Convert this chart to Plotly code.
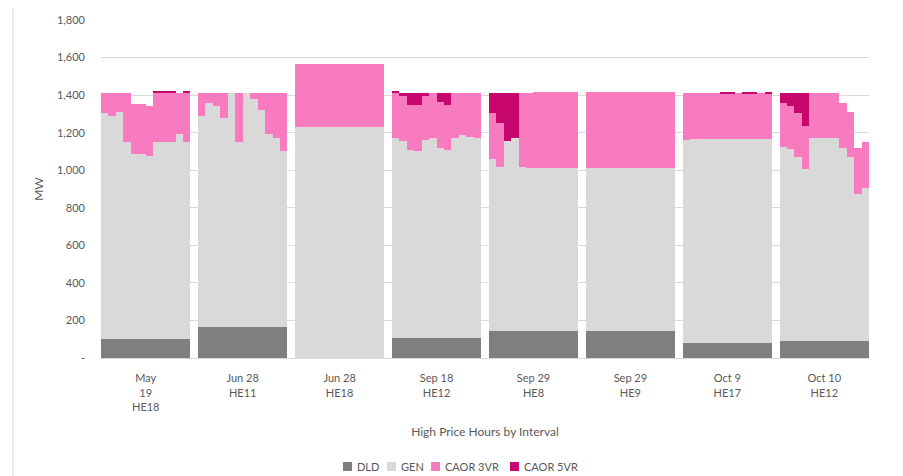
import plotly.graph_objects as go

# ---- data ----
group_labels = ["May<br>19<br>HE18", "Jun 28<br>HE11", "Jun 28<br>HE18", "Sep 18<br>HE12",
                "Sep 29<br>HE8", "Sep 29<br>HE9", "Oct 9<br>HE17", "Oct 10<br>HE12"]

dld_may19_he18 = [100] * 12
gen_may19_he18 = [1205, 1190, 1210, 1050, 985, 985, 975, 1050, 1050, 1050, 1095, 1050]
vr3_may19_he18 = [105, 120, 100, 260, 270, 270, 267, 265, 265, 265, 215, 265]
vr5_may19_he18 = [0, 0, 0, 0, 0, 0, 0, 3, 3, 3, 0, 3]

dld_jun28_he11 = [165] * 12
gen_jun28_he11 = [1125, 1195, 1177, 1115, 1245, 985, 1245, 1213, 1155, 1030, 1009, 935]
vr3_jun28_he11 = [120, 50, 68, 130, 0, 260, 0, 32, 90, 215, 236, 310]
vr5_jun28_he11 = [0] * 12

dld_jun28_he18 = [0] * 12
gen_jun28_he18 = [1228] * 12
vr3_jun28_he18 = [337] * 12
vr5_jun28_he18 = [0] * 12

dld_sep18_he12 = [105] * 12
gen_sep18_he12 = [1066, 1052, 1002, 995, 1056, 1066, 1016, 1004, 1066, 1082, 1074, 1066]
vr3_sep18_he12 = [244, 239, 238, 245, 235, 239, 242, 241, 239, 223, 231, 239]
vr5_sep18_he12 = [3, 14, 65, 65, 14, 0, 47, 60, 0, 0, 0, 0]

dld_sep29_he8 = [145] * 12
gen_sep29_he8 = [914, 874, 1012, 1026, 874, 867, 867, 867, 867, 867, 867, 867]
vr3_sep29_he8 = [244, 235, 0, 0, 391, 398, 403, 403, 403, 403, 403, 403]
vr5_sep29_he8 = [106, 155, 252, 238, 0, 0, 0, 0, 0, 0, 0, 0]

dld_sep29_he9 = [145] * 12
gen_sep29_he9 = [867] * 12
vr3_sep29_he9 = [403] * 12
vr5_sep29_he9 = [0] * 12

dld_oct9_he17 = [80] * 12
gen_oct9_he17 = [1080, 1085, 1085, 1085, 1085, 1085, 1085, 1085, 1085, 1085, 1085, 1085]
vr3_oct9_he17 = [250, 245, 245, 245, 245, 245, 245, 245, 245, 245, 245, 245]
vr5_oct9_he17 = [0, 0, 0, 0, 0, 4, 4, 0, 4, 4, 0, 4]

dld_oct10_he12 = [90] * 12
gen_oct10_he12 = [1035, 1022, 982, 916, 1084, 1084, 1084, 1084, 1031, 978, 784, 816]
vr3_oct10_he12 = [235, 230, 235, 230, 235, 235, 235, 235, 239, 244, 242, 242]
vr5_oct10_he12 = [49, 67, 102, 173, 0, 0, 0, 0, 0, 0, 0, 0]

dld_groups = [dld_may19_he18, dld_jun28_he11, dld_jun28_he18, dld_sep18_he12,
              dld_sep29_he8, dld_sep29_he9, dld_oct9_he17, dld_oct10_he12]
gen_groups = [gen_may19_he18, gen_jun28_he11, gen_jun28_he18, gen_sep18_he12,
              gen_sep29_he8, gen_sep29_he9, gen_oct9_he17, gen_oct10_he12]
vr3_groups = [vr3_may19_he18, vr3_jun28_he11, vr3_jun28_he18, vr3_sep18_he12,
              vr3_sep29_he8, vr3_sep29_he9, vr3_oct9_he17, vr3_oct10_he12]
vr5_groups = [vr5_may19_he18, vr5_jun28_he11, vr5_jun28_he18, vr5_sep18_he12,
              vr5_sep29_he8, vr5_sep29_he9, vr5_oct9_he17, vr5_oct10_he12]

y_tickvals = [0, 200, 400, 600, 800, 1000, 1200, 1400, 1600, 1800]
y_ticktext = ["-", "200", "400", "600", "800", "1,000", "1,200", "1,400", "1,600", "1,800"]

series_names = ["DLD", "GEN", "CAOR 3VR", "CAOR 5VR"]
series_colors = ["#7f7f7f", "#d9d9d9", "#f87bbf", "#c8076e"]

# ---- positions (12 intervals per hour + 1 empty slot as gap) ----
SLOT = 13
xs = []
for g in range(len(group_labels)):
    xs += [g * SLOT + j for j in range(12)]
centers = [g * SLOT + 5.5 for g in range(len(group_labels))]

def flat(groups):
    out = []
    for grp in groups:
        out += grp
    return out

series_values = [flat(dld_groups), flat(gen_groups), flat(vr3_groups), flat(vr5_groups)]

FONT = "Lato, 'Open Sans', sans-serif"
TXT = "#595959"

OFF = 8  # page body margin in the browser
W, H = 903 - OFF, 476 - OFF
ML, MR, MT, MB = 101 - OFF, 34, 20 - OFF, 118
PW, PH = W - ML - MR, H - MT - MB

def px_x(px):  # screen pixel -> paper coordinate
    return (px - OFF - ML) / PW

def px_y(py):
    return (H - MB - (py - OFF)) / PH

fig = go.Figure()
for name, vals, col in zip(series_names, series_values, series_colors):
    fig.add_trace(go.Bar(x=xs, y=vals, name=name, width=1.0, showlegend=False,
                         marker=dict(color=col, line=dict(width=0))))

fig.update_layout(
    width=W, height=H,
    barmode="stack", bargap=0,
    plot_bgcolor="white", paper_bgcolor="white",
    margin=dict(l=ML, r=MR, t=MT, b=MB, autoexpand=False),
    font=dict(family=FONT, size=11, color=TXT),
    showlegend=False,
)
fig.update_xaxes(range=[-0.5, len(group_labels) * SLOT - 1.5], automargin=False,
                 tickvals=centers, ticktext=group_labels, ticks="",
                 showgrid=False, zeroline=False, showline=True, linecolor="#d9d9d9",
                 tickfont=dict(size=11, color=TXT), ticklabelstandoff=10,
                 title=dict(text="High Price Hours by Interval", font=dict(size=12, color=TXT),
                            standoff=15))
fig.update_yaxes(range=[0, 1800], tickvals=y_tickvals, ticktext=y_ticktext, automargin=False,
                 showgrid=True, gridcolor="#d9d9d9", gridwidth=1, zeroline=False,
                 tickfont=dict(size=11, color=TXT), ticklabelstandoff=15,
                 title=dict(text="MW", font=dict(size=12, color=TXT), standoff=10))

# outer chart frame
fig.add_shape(type="rect", xref="paper", yref="paper",
              x0=px_x(13), x1=px_x(898), y0=px_y(490), y1=px_y(4),
              line=dict(color="#d9d9d9", width=1), fillcolor="rgba(0,0,0,0)", layer="below")

# legend (Excel-style, compact)
legend_square_left = [343, 387, 431, 510]
for name, col, sx in zip(series_names, series_colors, legend_square_left):
    fig.add_shape(type="rect", xref="paper", yref="paper",
                  x0=px_x(sx), x1=px_x(sx + 9), y0=px_y(471), y1=px_y(462),
                  line=dict(width=0), fillcolor=col)
    fig.add_annotation(xref="paper", yref="paper", x=px_x(sx + 12), y=px_y(466.5),
                       xanchor="left", yanchor="middle", text=name, showarrow=False,
                       font=dict(size=11, color=TXT))

fig.write_html("out.html")
